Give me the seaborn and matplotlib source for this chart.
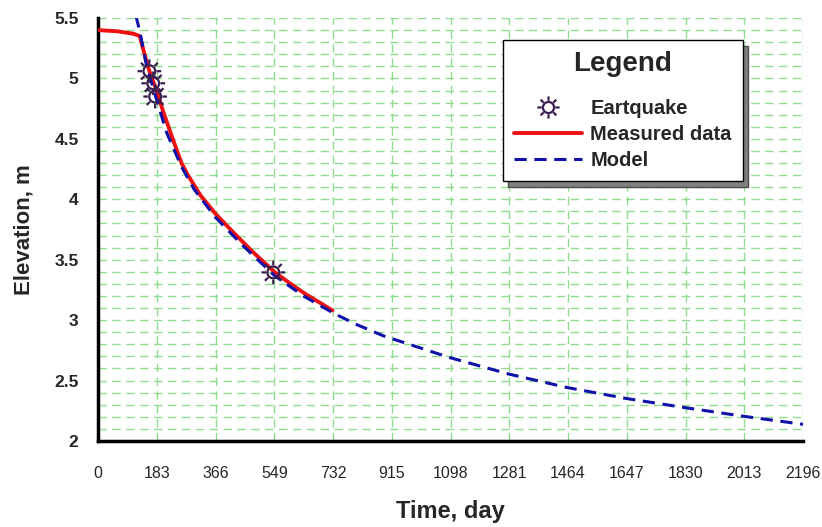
import numpy as np
import pandas as pd
import matplotlib
matplotlib.use("Agg")
import matplotlib.pyplot as plt
from matplotlib.path import Path
from matplotlib.lines import Line2D
import seaborn as sns

# ---- data ----
meas_t = [0, 60, 110, 130, 150, 165, 183, 200, 230, 260, 280, 320, 366, 420, 480, 549, 600, 650, 700, 730]
meas_h = [5.40, 5.39, 5.37, 5.35, 5.15, 5.02, 4.90, 4.75, 4.52, 4.30, 4.20, 4.03, 3.88, 3.73, 3.57, 3.40, 3.30, 3.21, 3.13, 3.08]

model_t = [118, 131, 150, 183, 214, 260, 300, 366, 450, 549, 640, 732, 800, 889, 1096, 1278, 1460, 1645, 1826, 2010, 2196]
model_h = [5.52, 5.38, 5.12, 4.82, 4.55, 4.27, 4.08, 3.85, 3.62, 3.37, 3.20, 3.06, 2.97, 2.87, 2.69, 2.555, 2.443, 2.352, 2.277, 2.205, 2.138]

quake_t = [160, 172, 178, 546]
quake_h = [5.06, 4.96, 4.85, 3.395]

x_ticks = [0, 183, 366, 549, 732, 915, 1098, 1281, 1464, 1647, 1830, 2013, 2196]
y_ticks = [2, 2.5, 3, 3.5, 4, 4.5, 5, 5.5]

# ---- style ----
sns.set_style("white")
plt.rcParams['font.family'] = ['Liberation Sans', 'DejaVu Sans']

fig = plt.figure(figsize=(8.22, 5.27), dpi=100)
ax = fig.add_axes([98/822, 1-441/527, 705/822, 423/527])

# sun-like marker: circle with 8 spokes
verts, codes = [], []
circ = Path.unit_circle()
for v, c in zip(circ.vertices * 0.5, circ.codes):
    verts.append(tuple(v)); codes.append(c)
for k in range(8):
    a = k * np.pi / 4
    verts += [(0.62*np.cos(a), 0.62*np.sin(a)), (1.0*np.cos(a), 1.0*np.sin(a))]
    codes += [Path.MOVETO, Path.LINETO]
sun = Path(verts, codes)

meas_df = pd.DataFrame({"t": meas_t, "h": meas_h})
model_df = pd.DataFrame({"t": model_t, "h": model_h})
quake_df = pd.DataFrame({"t": quake_t, "h": quake_h})

grid_c = "#8fdc8f"
for xv in x_ticks:
    ax.axvline(xv, color=grid_c, lw=1.0, ls=(0, (6, 4)), zorder=0)
for yv in np.arange(2.0, 5.55, 0.1):
    ax.axhline(yv, color=grid_c, lw=1.0, ls=(0, (6, 4)), zorder=0)

sns.lineplot(data=meas_df, x="t", y="h", ax=ax, color="#ee1111", lw=2.8, zorder=3, sort=False)
sns.lineplot(data=model_df, x="t", y="h", ax=ax, color="#1010aa", lw=2.2, ls=(0, (4, 2.5)), zorder=4, sort=False)
sns.scatterplot(data=quake_df, x="t", y="h", ax=ax, marker=sun, s=290, facecolor="none",
                edgecolor="#3b1e50", linewidth=1.6, color="#3b1e50", zorder=5)

ax.set_xlim(0, 2196)
ax.set_ylim(2, 5.5)
ax.set_xticks(x_ticks)
ax.set_xticklabels([str(v) for v in x_ticks])
ax.set_yticks(y_ticks)
ax.set_yticklabels(["2", "2.5", "3", "3.5", "4", "4.5", "5", "5.5"])
ax.set_yticks(np.arange(2.0, 5.55, 0.1), minor=True)

for s in ["top", "right"]:
    ax.spines[s].set_visible(False)
for s in ["left", "bottom"]:
    ax.spines[s].set_color("black")
    ax.spines[s].set_linewidth(2.5)

ax.tick_params(axis="x", which="major", direction="out", length=12, width=2, color="black",
               pad=6, labelsize=11.5)
ax.tick_params(axis="y", which="major", direction="out", length=10, width=2, color="black",
               pad=4, labelsize=12.5)
ax.tick_params(axis="y", which="minor", direction="out", length=6, width=2, color="black")
for lab in ax.get_yticklabels():
    lab.set_fontweight("bold")

ax.set_xlabel("Time, day", fontsize=17, fontweight="bold", labelpad=14)
ax.set_ylabel("Elevation, m", fontsize=16, fontweight="bold", labelpad=14)

handles = [
    Line2D([], [], ls="none", marker=sun, markersize=16, markerfacecolor="none",
           markeredgecolor="#3b1e50", markeredgewidth=1.6),
    Line2D([], [], color="#ee1111", lw=2.8),
    Line2D([], [], color="#1010aa", lw=2.2, ls=(0, (4, 2.5))),
]
leg = ax.legend(handles, ["Eartquake", "Measured data", "Model"], title="Legend",
                loc="upper left", bbox_to_anchor=(0.574, 0.948), borderaxespad=0,
                prop={"size": 14.5, "weight": "bold"}, title_fontproperties={"size": 20, "weight": "bold"},
                handlelength=3.4, handletextpad=0.4, labelspacing=0.35, borderpad=0.55,
                fancybox=False, framealpha=1, edgecolor="black",
                shadow={"ox": 4, "oy": -4, "facecolor": "#808080", "alpha": 1})
leg.get_frame().set_linewidth(1.0)
leg._legend_box.sep = 16

fig.savefig("out.png", dpi=100)
